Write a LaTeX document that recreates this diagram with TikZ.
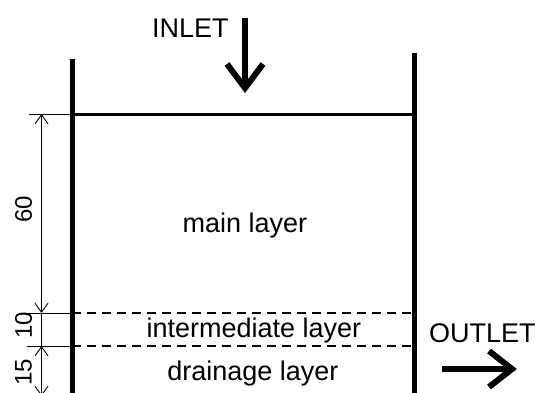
\documentclass[tikz,border=0pt]{standalone}
\usepackage{fontspec}
\setmainfont{Liberation Sans}
\usetikzlibrary{arrows.meta}
\tikzset{
  wall/.style={line width=5pt},
  topline/.style={line width=3pt},
  layerline/.style={line width=2.2pt, dash pattern=on 9pt off 6pt},
  thin/.style={line width=0.9pt},
  dimline/.style={line width=0.9pt, {Straight Barb[length=9pt,width=13pt]}-{Straight Barb[length=9pt,width=13pt]}},
  bigarrow/.style={line width=6pt, miter limit=10},
  lbl/.style={font=\fontsize{27}{32}\selectfont, inner sep=0pt, anchor=base},
  dimlbl/.style={font=\fontsize{24}{28}\selectfont, inner sep=0pt, rotate=90},
}
\begin{document}
\begin{tikzpicture}[x=1pt,y=-1pt]
\useasboundingbox (0,0) rectangle (542,392);
% walls
\coordinate (lwt) at (72,59);
\coordinate (lwb) at (72,398);
\coordinate (rwt) at (414,53);
\coordinate (rwb) at (414,398);
\draw[wall] (lwt) -- (lwb);
\draw[wall] (rwt) -- (rwb);
% layer boundaries
\coordinate (tl) at (72,114);
\coordinate (tr) at (414,114);
\coordinate (m1l) at (72,313);
\coordinate (m1r) at (414,313);
\coordinate (m2l) at (72,346);
\coordinate (m2r) at (414,346);
\draw[topline] (tl) -- (tr);
\draw[layerline] (m1l) -- (m1r);
\draw[layerline] (m2l) -- (m2r);
% extension lines
\coordinate (e1) at (29,114);
\coordinate (e2) at (28,313);
\coordinate (e3) at (27,346);
\draw[thin] (e1) -- (tl);
\draw[thin] (e2) -- (m1l);
\draw[thin] (e3) -- (m2l);
% dimension lines
\coordinate (d0) at (41.5,114);
\coordinate (d1) at (41.5,313);
\coordinate (d2) at (41.5,346);
\coordinate (d3) at (41.5,396);
\draw[dimline] (d0) -- (d1);
\draw[thin] (d1) -- (d2);
\draw[dimline] (d2) -- (d3);
\node[dimlbl] (l60) at (23.5,209) {60};
\node[dimlbl] (l10) at (23.5,325) {10};
\node[dimlbl] (l15) at (23.5,372) {15};
% layer texts
\node[lbl] (main) at (245,232) {main layer};
\node[lbl] (inter) at (254,337) {intermediate layer};
\node[lbl] (drain) at (253,380) {drainage layer};
% inlet
\node[lbl, anchor=base west] (inlet) at (152,37) {INLET};
\coordinate (ia) at (245,18);
\coordinate (ib) at (245,88);
\coordinate (ic) at (227,64);
\coordinate (id) at (263,64);
\draw[bigarrow] (ia) -- (ib);
\draw[bigarrow] (ic) -- (ib) -- (id);
% outlet
\node[lbl, anchor=base west] (outlet) at (429,342) {OUTLET};
\coordinate (oa) at (442,369);
\coordinate (ob) at (512,369);
\coordinate (oc) at (489,351);
\coordinate (od) at (489,387);
\draw[bigarrow] (oa) -- (ob);
\draw[bigarrow] (oc) -- (ob) -- (od);
\end{tikzpicture}
\end{document}
